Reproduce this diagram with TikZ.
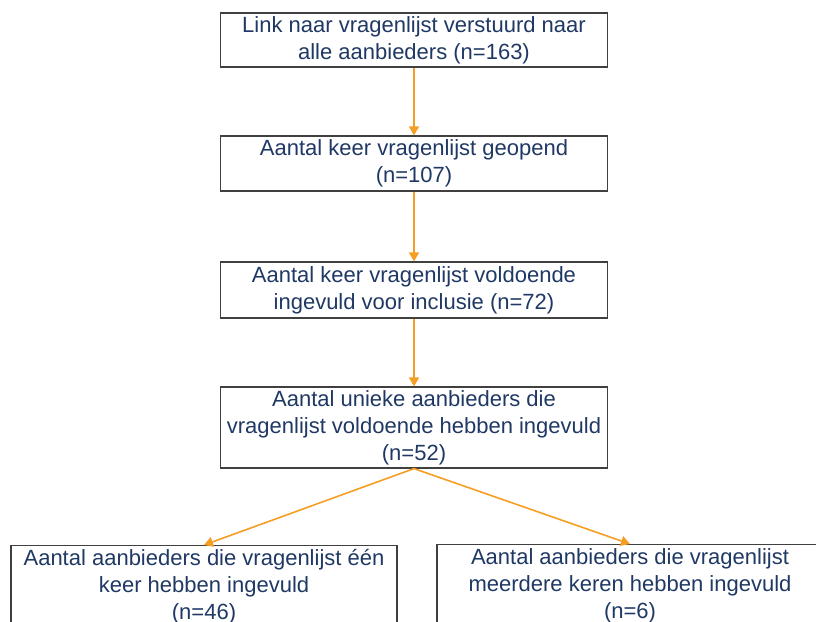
\documentclass[tikz,border=0pt]{standalone}
\usepackage{fontspec}
\setmainfont{Liberation Sans}
\usetikzlibrary{arrows.meta}
\definecolor{txt}{RGB}{31,56,100}
\definecolor{arr}{RGB}{245,158,35}
\definecolor{frame}{RGB}{64,64,64}
\begin{document}
\begin{tikzpicture}[x=1pt,y=-1pt,
  box/.style={draw=frame, line width=1.2pt, text=txt, font=\fontsize{22}{27}\selectfont, align=center, inner sep=0pt, minimum width=387pt},
  openbox/.style={draw=frame, line width=1.2pt, text=txt, font=\fontsize{22}{27}\selectfont, align=center, inner xsep=0pt, inner ysep=4pt, minimum width=386pt, text depth=60pt},
  link/.style={draw=arr, line width=1.6pt, -{Triangle[length=9pt,width=10pt]}}]
\useasboundingbox (0,0) rectangle (816,621);
\clip (0,0) rectangle (816,621);
\node[box, minimum height=54pt] (b1) at (414,40) {Link naar vragenlijst verstuurd naar\\alle aanbieders (n=163)};
\node[box, minimum height=55pt] (b2) at (414,163.5) {Aantal keer vragenlijst geopend\\(n=107)};
\node[box, minimum height=56pt] (b3) at (414,290) {Aantal keer vragenlijst voldoende\\ingevuld voor inclusie (n=72)};
\node[box, minimum height=81pt] (b4) at (414,427.5) {Aantal unieke aanbieders die\\vragenlijst voldoende hebben ingevuld\\(n=52)};
\node[openbox, anchor=north] (b5) at (204,545) {Aantal aanbieders die vragenlijst één\\keer hebben ingevuld\\(n=46)};
\node[openbox, anchor=north] (b6) at (630,544) {Aantal aanbieders die vragenlijst\\meerdere keren hebben ingevuld\\(n=6)};
\draw[link] (b1) -- (b2);
\draw[link] (b2) -- (b3);
\draw[link] (b3) -- (b4);
\draw[link] (b4.south) -- (b5.north);
\draw[link] (b4.south) -- (b6.north);
\end{tikzpicture}
\end{document}
